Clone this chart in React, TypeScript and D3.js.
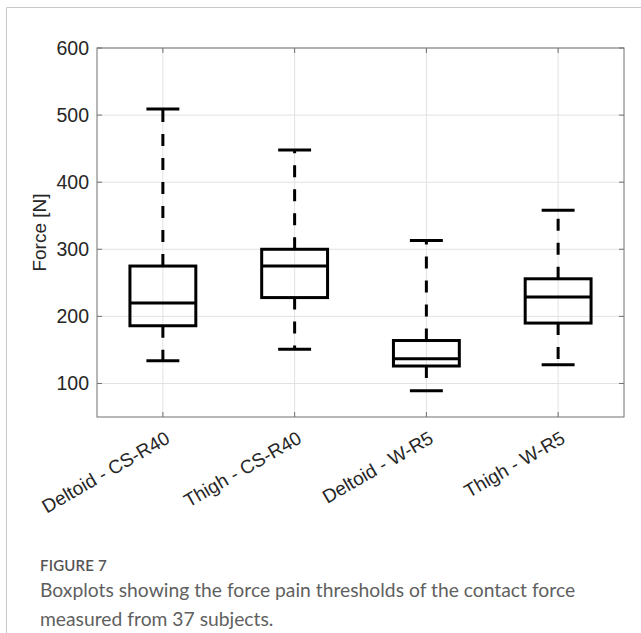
import React from 'react';
import * as d3 from 'd3';

const categories = ['Deltoid - CS-R40', 'Thigh - CS-R40', 'Deltoid - W-R5', 'Thigh - W-R5'];
const whiskerLow = [134, 151, 89, 128];
const q1 = [186, 228, 126, 190];
const medians = [220, 275, 137, 229];
const q3 = [275, 300, 164, 256];
const whiskerHigh = [509, 448, 313, 358];
const yTicks = [100, 200, 300, 400, 500, 600];

const W = 641;
const H = 633;
const left = 97;
const right = 624;
const top = 48;
const bottom = 417;

const tickFont = '"Liberation Sans", Arial, sans-serif';
const captionFont = "Lato, 'Open Sans', sans-serif";

export default function App() {
  const x = d3.scaleBand<string>().domain(categories).range([left, right]);
  const y = d3.scaleLinear().domain([50, 600]).range([bottom, top]);
  const step = x.step();
  const boxW = step * 0.5;
  const capW = step * 0.25;
  const cx = (c: string) => (x(c) as number) + x.bandwidth() / 2;

  return (
    <svg width={W} height={H} style={{ position: 'absolute', left: 0, top: 0, background: '#fff' }}>
      {/* card border */}
      <line x1={6.5} y1={7.5} x2={W} y2={7.5} stroke="#c8c8c8" />
      <line x1={6.5} y1={7.5} x2={6.5} y2={H} stroke="#c8c8c8" />

      {/* grid */}
      {yTicks.map(t => (
        <line key={'gy' + t} x1={left} x2={right} y1={y(t)} y2={y(t)} stroke="#e2e2e2" />
      ))}
      {categories.map(c => (
        <line key={'gx' + c} x1={cx(c)} x2={cx(c)} y1={top} y2={bottom} stroke="#e2e2e2" />
      ))}

      {/* axes box + ticks */}
      <rect x={left} y={top} width={right - left} height={bottom - top} fill="none" stroke="#707070" />
      {yTicks.map(t => (
        <g key={'ty' + t}>
          <line x1={left} x2={left + 5} y1={y(t)} y2={y(t)} stroke="#707070" />
          <line x1={right} x2={right - 5} y1={y(t)} y2={y(t)} stroke="#707070" />
          <text x={left - 8} y={y(t)} dy="0.36em" textAnchor="end" fontFamily={tickFont} fontSize={19.5} fill="#262626">
            {t}
          </text>
        </g>
      ))}
      {categories.map(c => (
        <g key={'tx' + c}>
          <line x1={cx(c)} x2={cx(c)} y1={bottom} y2={bottom - 5} stroke="#707070" />
          <line x1={cx(c)} x2={cx(c)} y1={top} y2={top + 5} stroke="#707070" />
          <text
            transform={`translate(${cx(c) + 1.5},${bottom + 13}) rotate(-30)`}
            dy="0.72em"
            textAnchor="end"
            fontFamily={tickFont}
            fontSize={19}
            fill="#262626"
          >
            {c}
          </text>
        </g>
      ))}
      <text
        transform={`translate(46,${(top + bottom) / 2}) rotate(-90)`}
        textAnchor="middle"
        fontFamily={tickFont}
        fontSize={19}
        fill="#262626"
      >
        Force [N]
      </text>

      {/* boxes */}
      {categories.map((c, i) => {
        const xc = cx(c);
        return (
          <g key={'box' + c} stroke="#000" strokeWidth={3} fill="none">
            <line x1={xc} x2={xc} y1={y(q3[i])} y2={y(whiskerHigh[i])} strokeDasharray="12,12" />
            <line x1={xc} x2={xc} y1={y(q1[i])} y2={y(whiskerLow[i])} strokeDasharray="12,12" />
            <line x1={xc - capW / 2} x2={xc + capW / 2} y1={y(whiskerHigh[i])} y2={y(whiskerHigh[i])} />
            <line x1={xc - capW / 2} x2={xc + capW / 2} y1={y(whiskerLow[i])} y2={y(whiskerLow[i])} />
            <rect x={xc - boxW / 2} y={y(q3[i])} width={boxW} height={y(q1[i]) - y(q3[i])} />
            <line x1={xc - boxW / 2} x2={xc + boxW / 2} y1={y(medians[i])} y2={y(medians[i])} />
          </g>
        );
      })}

      {/* caption */}
      <text x={40} y={571} fontFamily={captionFont} fontSize={15} fontWeight={600} fill="#555" letterSpacing={0.2}>
        FIGURE 7
      </text>
      <text x={40} y={597} fontFamily={captionFont} fontSize={19.3} fill="#5f5f5f">
        Boxplots showing the force pain thresholds of the contact force
      </text>
      <text x={40} y={626} fontFamily={captionFont} fontSize={19.3} fill="#5f5f5f">
        measured from 37 subjects.
      </text>
    </svg>
  );
}
